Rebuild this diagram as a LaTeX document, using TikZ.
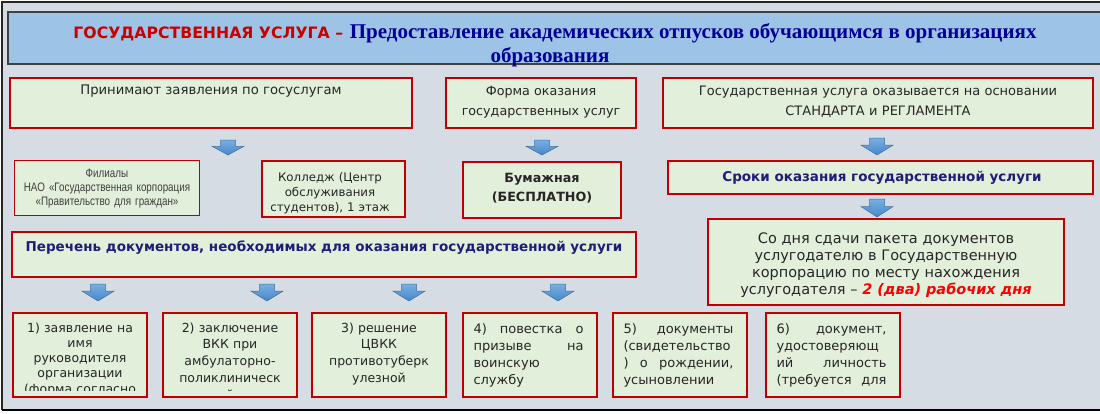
\documentclass[tikz,border=0pt]{standalone}
\usepackage{fontspec}
\setmainfont{DejaVu Sans}
\newfontfamily\serifbold{Liberation Serif}
\newfontfamily\narrowfont[FakeStretch=0.8]{Liberation Sans}
\usetikzlibrary{positioning}
\definecolor{bgcol}{RGB}{214,220,228}
\definecolor{titlefill}{RGB}{157,195,230}
\definecolor{boxfill}{RGB}{226,239,218}
\definecolor{boxred}{RGB}{192,0,0}
\definecolor{titlered}{RGB}{200,0,0}
\definecolor{titleblue}{RGB}{0,0,150}
\definecolor{navytext}{RGB}{30,30,120}
\definecolor{txtgray}{RGB}{38,38,38}
\definecolor{arrowtop}{RGB}{120,175,228}
\definecolor{arrowbot}{RGB}{70,135,200}
\definecolor{arrowline}{RGB}{65,113,156}
\tikzset{
  gbox/.style={draw=boxred, line width=2pt, fill=boxfill, inner sep=0pt, outer sep=0pt, anchor=north west},
  txt/.style={inner sep=0pt, outer sep=0pt, text=txtgray, align=center, anchor=base},
  pics/blkarrow/.style={code={
      \draw[draw=arrowline, line width=0.5pt, top color=arrowtop, bottom color=arrowbot]
        (-7.5,0) -- (7.5,0) -- (7.5,0.42*#1) -- (16,0.42*#1) -- (0,#1)
        -- (-16,0.42*#1) -- (-7.5,0.42*#1) -- cycle;
  }}
}
\begin{document}
\begin{tikzpicture}[x=1pt,y=-1pt]
\useasboundingbox (0,0) rectangle (1100,413);
\clip (0,0) rectangle (1100,413);
% frame
\fill[bgcol] (2,2) rectangle (1105,410);
\draw[line width=1.2pt, black!85] (1105,2) -- (2,2) -- (2,410);
\draw[line width=2pt] (2,410) -- (1105,410);
% title
\node[gbox, draw=black!75, line width=1.2pt, fill=titlefill, minimum width=1100pt, minimum height=52pt] (title) at (8,12) {};
\node[txt, font=\fontsize{21}{26}\selectfont] (title1) at (555,38)
  {{\color{titlered}\fontsize{15.7}{18}\selectfont\bfseries ГОСУДАРСТВЕННАЯ УСЛУГА –} {\serifbold\bfseries\color{titleblue}Предоставление академических отпусков обучающимся в организациях}};
\node[txt, font=\fontsize{21}{26}\selectfont\serifbold\bfseries, text=titleblue] (title2) at (550,62) {образования};
% top row
\node[gbox, minimum width=402pt, minimum height=50pt] (priem) at (10,78) {};
\node[txt, font=\fontsize{13.2}{15}\selectfont] (priemtxt) at (211,94) {Принимают заявления по госуслугам};
\node[gbox, minimum width=190pt, minimum height=50pt] (forma) at (446,78) {};
\node[txt, text width=186pt, font=\fontsize{12.7}{20}\selectfont] (formatxt) at (541,95) {Форма оказания\\государственных услуг};
\node[gbox, minimum width=430pt, minimum height=50pt] (osnova) at (663,78) {};
\node[txt, text width=420pt, font=\fontsize{13}{20}\selectfont] (osnovatxt) at (878,95) {Государственная услуга оказывается на основании\\СТАНДАРТА и РЕГЛАМЕНТА};
\pic at (228,140) {blkarrow=15};
\pic at (542,140) {blkarrow=15};
\pic at (877,138) {blkarrow=17};
% second row
\node[gbox, line width=1pt, minimum width=185pt, minimum height=55pt] (filial) at (14,160) {};
\node[txt, text width=180pt, text=black!75, font=\fontsize{12.3}{14}\narrowfont] (filialtxt) at (107,177) {Филиалы\\НАО «Государственная корпорация\\«Правительство для граждан»};
\node[gbox, minimum width=143pt, minimum height=56pt] (kolledzh) at (262,161) {};
\node[txt, text width=140pt, font=\fontsize{11.8}{15}\selectfont] (kolledzhtxt) at (330,181) {Колледж (Центр\\обслуживания\\студентов), 1 этаж};
\node[gbox, minimum width=158pt, minimum height=56pt] (bumazh) at (463,162) {};
\node[txt, text width=150pt, font=\fontsize{12.7}{19}\selectfont\bfseries] (bumazhtxt) at (542,182) {Бумажная\\(БЕСПЛАТНО)};
\node[gbox, minimum width=425pt, minimum height=33pt] (sroki) at (668,161) {};
\node[txt, text=navytext, font=\fontsize{13.5}{15}\selectfont\bfseries] (srokitxt) at (882,181) {Сроки оказания государственной услуги};
\pic at (877,199) {blkarrow=18};
\node[gbox, minimum width=356pt, minimum height=86pt] (sodnya) at (708,219) {};
\node[txt, text width=350pt, font=\fontsize{14.5}{17.3}\selectfont] (sodnyatxt) at (886,243)
  {Со дня сдачи пакета документов\\услугодателю в Государственную\\корпорацию по месту нахождения\\услугодателя – {\color{red}\bfseries\itshape 2 (два) рабочих дня}};
\node[gbox, minimum width=624pt, minimum height=45pt] (perechen) at (12,232) {};
\node[txt, text=navytext, font=\fontsize{13.5}{15}\selectfont\bfseries] (perechentxt) at (324,251) {Перечень документов, необходимых для оказания государственной услуги};
% bottom row
\foreach \x in {98,267,409,558}
  \pic at (\x,284) {blkarrow=17};
\foreach \bx/\nm in {13/doc1, 163/doc2, 312/doc3, 463/doc4, 613/doc5, 766/doc6}
  \node[gbox, minimum width=134pt, minimum height=84pt] (\nm) at (\bx,313) {};
\foreach \nm/\sp/\lines in {doc1/15.3/{1) заявление на\\имя\\руководителя\\организации\\(форма согласно},
    doc2/16.8/{2) заключение\\ВКК при\\амбулаторно-\\поликлиническ\\й},
    doc3/16.8/{3) решение\\ЦВКК\\противотуберк\\улезной}} {
  \begin{scope}
    \clip ([yshift=7pt]\nm.south west) rectangle (\nm.north east);
    \node[txt, text width=132pt, font=\fontsize{12.5}{\sp}\selectfont] (\nm txt) at ([yshift=-19pt]\nm.north) {\lines};
  \end{scope}
}
\foreach \nm/\lines in {doc4/{\makebox[110pt][s]{4)\hfill повестка\hfill о}\\\makebox[110pt][s]{призыве\hfill на}\\воинскую\\службу},
    doc5/{\makebox[110pt][s]{5)\hfill документы}\\(свидетельство\\\makebox[110pt][s]{)\hfill о\hfill рождении,}\\усыновлении},
    doc6/{\makebox[110pt][s]{6)\hfill документ,}\\удостоверяющ\\\makebox[110pt][s]{ий\hfill личность}\\\makebox[110pt][s]{(требуется\hfill для}}}
  \node[txt, anchor=base west, align=left, text width=110pt, font=\fontsize{13}{17.3}\selectfont] (\nm txt) at ([xshift=10.5pt, yshift=-20pt]\nm.north west) {\lines};
\end{tikzpicture}
\end{document}
